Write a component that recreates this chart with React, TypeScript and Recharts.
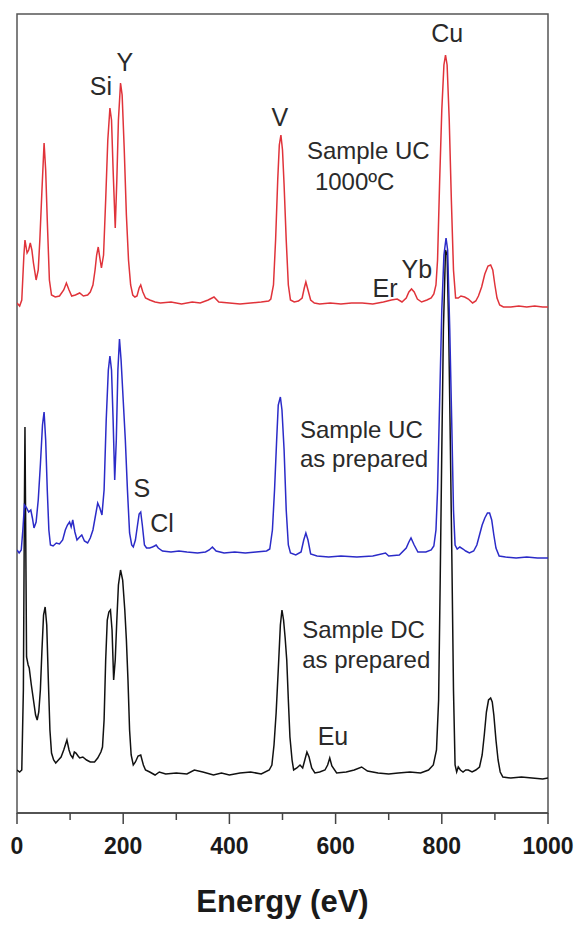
import React from 'react';
import { LineChart, Line, XAxis, YAxis, ReferenceArea, ReferenceDot } from 'recharts';

// Energy (eV) and offset intensity (a.u.) for each spectrum
const redEnergy = [0,5,9,13,15,19,22,25,28,31,36,40,43,47,51,54,57,61,65,72,80,88,93,98,103,110,118,125,133,138,143,147,150,153,156,159,163,167,171,175,178,181,185,188,191,195,198,202,206,210,214,218,222,226,230,233,237,242,250,260,270,290,310,330,345,360,371,380,400,420,440,460,474,478,483,487,491,494,497,500,503,507,511,515,522,530,537,541,544,548,553,560,570,590,610,630,650,670,690,705,716,725,733,738,743,748,754,762,772,780,785,789,792,796,800,804,807,810,814,818,822,826,831,836,843,850,858,864,869,875,881,887,892,896,900,904,909,916,930,945,960,975,990,1000];
const redIntensity = [510,507,513,558,573,560,563,570,563,550,533,543,573,623,670,643,593,533,518,516,517,523,530,523,517,518,520,517,518,521,528,543,558,566,555,545,558,613,673,705,693,643,585,633,693,730,718,663,598,553,528,518,516,517,525,528,521,515,513,511,510,511,509,511,510,513,516,511,510,509,510,511,512,514,528,573,633,668,678,663,628,573,528,513,511,512,515,525,531,523,513,510,509,510,509,510,510,509,511,513,514,511,515,521,524,521,514,511,513,515,519,528,553,633,703,748,758,748,693,613,543,515,515,517,516,514,510,512,517,526,539,547,548,543,528,515,508,506,506,507,506,507,506,506];

const blueEnergy = [0,4,8,11,14,18,22,26,29,32,36,40,44,48,51,54,57,60,63,68,74,80,86,91,95,99,102,105,109,113,118,122,127,133,138,143,148,152,156,160,164,168,172,175,178,181,184,187,190,193,196,200,204,208,212,216,219,223,227,230,233,236,240,244,250,255,259,262,266,274,290,305,320,340,355,362,368,375,390,410,430,450,470,476,481,485,489,492,496,499,503,507,511,515,525,535,540,544,548,553,565,587,610,640,670,694,700,720,733,738,742,748,755,770,780,785,789,792,796,800,804,808,811,815,819,822,825,829,834,840,845,852,860,866,871,876,881,886,890,894,898,902,908,920,940,960,980,1000];
const blueIntensity = [263,260,263,283,308,305,301,303,295,285,291,313,348,388,401,373,323,283,268,267,270,269,273,283,288,291,286,293,281,273,276,278,272,270,275,283,298,310,305,298,323,393,443,457,443,393,333,373,443,474,453,413,373,323,280,268,266,273,288,299,301,288,268,265,265,266,267,268,265,262,261,262,261,260,261,263,266,262,260,261,260,261,262,264,283,323,373,408,416,403,363,303,268,260,258,261,273,280,273,259,257,256,257,256,257,260,257,258,265,271,275,268,261,261,263,267,283,323,413,503,558,575,563,483,383,303,268,264,266,264,262,260,262,268,278,288,295,300,300,293,278,265,257,256,255,256,255,255];

const blackEnergy = [0,5,9,12,14,15,16,18,21,23,27,31,35,38,41,44,47,50,53,56,59,62,65,69,73,78,83,88,94,98,101,105,108,111,115,118,124,131,138,146,152,158,161,164,167,170,173,176,179,182,185,188,191,195,199,203,206,209,212,215,219,223,228,233,238,242,250,260,268,280,300,320,334,350,370,385,400,420,440,460,475,480,484,488,492,496,499,502,505,508,511,514,518,521,527,533,538,542,546,550,555,561,570,580,585,589,593,602,620,635,649,660,680,700,718,740,760,775,784,790,794,797,800,803,807,810,813,816,819,822,825,828,831,835,840,845,850,857,864,871,876,880,884,888,892,895,898,902,906,910,915,930,950,970,990,1000];
const blackIntensity = [43,41,43,123,313,386,313,156,148,145,128,113,98,93,101,123,163,198,206,188,133,83,60,53,50,53,56,63,73,63,58,55,61,60,57,55,56,53,51,51,55,61,66,93,153,193,201,203,183,133,153,193,228,243,233,203,173,133,83,58,48,51,57,58,48,43,41,38,41,39,40,39,43,41,38,40,38,40,41,39,43,48,68,100,143,188,203,193,175,153,113,76,53,43,45,48,45,53,61,56,45,40,41,43,48,55,47,40,41,43,46,42,40,39,40,41,40,43,48,63,113,233,363,483,563,558,483,373,253,123,48,41,46,43,41,43,43,41,43,46,58,78,101,113,115,111,98,73,53,41,36,35,36,35,34,35];

const xTicks = [0,100,200,300,400,500,600,700,800,900,1000];
const xLabelTicks = [0,200,400,600,800,1000];

// Annotation labels anchored in data coordinates (energy, intensity)
const annotations = [
  { text: 'Si', e: 158, v: 718, anchor: 'middle', size: 25 },
  { text: 'Y', e: 203, v: 742, anchor: 'middle', size: 25 },
  { text: 'V', e: 495, v: 687, anchor: 'middle', size: 25 },
  { text: 'Cu', e: 810, v: 771, anchor: 'middle', size: 25 },
  { text: 'Sample UC', e: 546, v: 654, anchor: 'start', size: 24 },
  { text: '1000ºC', e: 561, v: 623, anchor: 'start', size: 24 },
  { text: 'Er', e: 693, v: 516, anchor: 'middle', size: 25 },
  { text: 'Yb', e: 753, v: 535, anchor: 'middle', size: 25 },
  { text: 'S', e: 235, v: 316, anchor: 'middle', size: 25 },
  { text: 'Cl', e: 273, v: 281, anchor: 'middle', size: 25 },
  { text: 'Sample UC', e: 533, v: 375, anchor: 'start', size: 24 },
  { text: 'as prepared', e: 533, v: 346, anchor: 'start', size: 24 },
  { text: 'Sample DC', e: 537, v: 175, anchor: 'start', size: 24 },
  { text: 'as prepared', e: 537, v: 145, anchor: 'start', size: 24 },
  { text: 'Eu', e: 595, v: 68, anchor: 'middle', size: 25 },
];

const zip = (es: number[], vs: number[]) => es.map((e, i) => ({ e, v: vs[i] }));
const redData = zip(redEnergy, redIntensity);
const blueData = zip(blueEnergy, blueIntensity);
const blackData = zip(blackEnergy, blackIntensity);

const FONT = '"Liberation Sans", Arial, Helvetica, sans-serif';

const Tick = (props: any) => {
  const { x, y, payload } = props;
  const major = xLabelTicks.includes(payload.value);
  return (
    <g>
      <line x1={x} x2={x} y1={y} y2={y + (major ? 11 : 7)} stroke="#444" strokeWidth={1.5} />
      {major && (
        <text x={x} y={y + 41} textAnchor="middle" fontFamily={FONT} fontWeight="bold" fontSize={23} fill="#1a1a1a">
          {payload.value}
        </text>
      )}
    </g>
  );
};

export default function App() {
  return (
    <div style={{ position: 'absolute', left: 0, top: 0, width: 582, height: 925, background: '#fff' }}>
      <LineChart width={582} height={925} margin={{ top: 14, right: 34, left: 17, bottom: 0 }}>
        <XAxis
          dataKey="e"
          type="number"
          domain={[0, 1000]}
          ticks={xTicks}
          interval={0}
          allowDataOverflow
          height={112}
          tickSize={0}
          tickMargin={0}
          tickLine={false}
          axisLine={{ stroke: '#444', strokeWidth: 1.5 }}
          tick={<Tick />}
          label={{ value: 'Energy (eV)', position: 'insideBottom', offset: 13, style: { fontFamily: FONT, fontWeight: 'bold', fontSize: 31, fill: '#1a1a1a' } }}
        />
        <YAxis type="number" domain={[0, 799]} width={0} hide allowDataOverflow />
        <ReferenceArea x1={0} x2={1000} y1={0} y2={799} fill="none" fillOpacity={0} stroke="#555" strokeWidth={1.5} ifOverflow="visible" />
        <Line data={blackData} dataKey="v" type="linear" stroke="#111" strokeWidth={1.5} dot={false} isAnimationActive={false} />
        <Line data={blueData} dataKey="v" type="linear" stroke="#2b2bc8" strokeWidth={1.5} dot={false} isAnimationActive={false} />
        <Line data={redData} dataKey="v" type="linear" stroke="#e0333a" strokeWidth={1.5} dot={false} isAnimationActive={false} />
        {annotations.map((a, i) => (
          <ReferenceDot
            key={i}
            x={a.e}
            y={a.v}
            r={0}
            ifOverflow="visible"
            shape={(p: any) => (
              <text x={p.cx} y={p.cy} textAnchor={a.anchor as any} fontFamily={FONT} fontSize={a.size} fill="#2a2a2a">
                {a.text}
              </text>
            )}
          />
        ))}
      </LineChart>
    </div>
  );
}
